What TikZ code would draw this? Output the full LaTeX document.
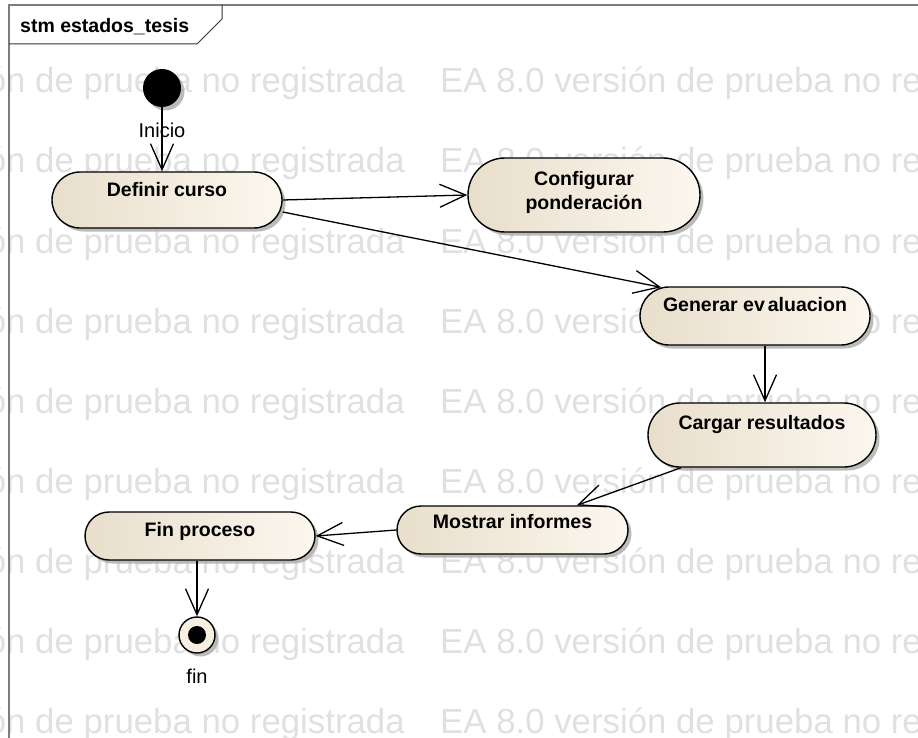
\documentclass[tikz,border=0pt]{standalone}
\usepackage{fontspec}
\setmainfont{Liberation Sans}
\usetikzlibrary{shapes.misc,shadows,arrows.meta}
\definecolor{stateL}{RGB}{232,222,203}
\definecolor{stateR}{RGB}{252,247,239}
\definecolor{finfill}{RGB}{246,239,226}
\definecolor{wmgray}{RGB}{224,224,224}
\definecolor{framegray}{RGB}{125,125,125}
\definecolor{shadowgray}{RGB}{175,175,175}
\begin{document}
\begin{tikzpicture}[x=1pt,y=-1pt,
  shadowed/.style={drop shadow={shadow xshift=3.5pt,shadow yshift=-3.5pt,fill=shadowgray,opacity=0.85}},
  state/.style={rounded rectangle,draw=black,line width=1.4pt,left color=stateL,right color=stateR,
    inner sep=0pt,minimum width=230pt,shadowed},
  lbl/.style={font=\fontsize{19.5}{24}\selectfont\bfseries,align=center,inner sep=0pt},
  note/.style={font=\fontsize{20}{24}\selectfont,inner sep=0pt},
  wm/.style={text=wmgray,font=\fontsize{34.8}{40}\selectfont,inner sep=0pt},
  trans/.style={draw=black,line width=1.3pt,-{Straight Barb[length=26pt,width=23pt]}},
  frameline/.style={draw=framegray,line width=1.6pt},
  tabline/.style={draw=black!80,line width=1pt}
]
\useasboundingbox (0,0) rectangle (918,738);

% evaluation-copy watermark rows
\begin{scope}
  \clip (0,0) rectangle (918,738);
  \foreach \k in {0,...,8}{
    \node[wm,anchor=base east] (wmL\k) at (405,93+80*\k) {EA 8.0 versión de prueba no registrada};
    \node[wm,anchor=base west] (wmR\k) at (440,93+80*\k) {EA 8.0 versión de prueba no registrada};
  }
\end{scope}

% diagram frame with name tab
\draw[frameline] (918,5) -- (9,5) -- (9,738);
\draw[tabline] (9,44) -- (197,44) -- (222,19) -- (222,5);
\node[font=\fontsize{19.5}{24}\selectfont\bfseries,anchor=base west,inner sep=0pt] (title) at (20,33) {stm estados\_tesis};

% states
\node[circle,fill=black,minimum size=38pt,inner sep=0pt,shadowed] (ini) at (162,88) {};
\node[state,minimum height=56pt] (def) at (167,200) {};
\node[state,minimum width=232pt,minimum height=74pt] (conf) at (584,195) {};
\node[state,minimum height=58pt] (gen) at (755,316) {};
\node[state,minimum width=228pt,minimum height=64pt] (car) at (762,435) {};
\node[state,minimum width=231pt,minimum height=48pt] (mos) at (512.5,530) {};
\node[state,minimum height=48pt] (finp) at (200,536) {};
\node[circle,draw=black,line width=1.4pt,fill=finfill,minimum size=36pt,inner sep=0pt,shadowed] (finalSt) at (197,635) {};
\node[circle,fill=black,minimum size=18pt,inner sep=0pt] (finalDot) at (finalSt.center) {};

% state names
\node[lbl,anchor=base] (defT) at ([yshift=-25pt]def.north) {Definir curso};
\node[lbl,anchor=north] (confT) at ([yshift=-14pt]conf.north) {Configurar\\ponderación};
\node[lbl,anchor=base] (genT) at ([yshift=-25pt]gen.north) {Generar ev\kern3pt aluacion};
\node[lbl,anchor=base] (carT) at ([yshift=-27pt]car.north) {Cargar resultados};
\node[lbl,anchor=base] (mosT) at ([yshift=-23pt]mos.north) {Mostrar informes};
\node[lbl,anchor=base] (finpT) at ([yshift=-25pt]finp.north) {Fin proceso};
\node[note,anchor=base] (finLbl) at ([yshift=-48pt]finalSt.center) {fin};

% transitions
\draw[trans] (ini.south) -- node[note,pos=0.36] (iniLbl) {Inicio} (def.north -| ini);
\draw[trans] (def.east) -- (conf.west);
\draw[trans] ([yshift=-12pt]def.east) -- (gen.163);
\draw[trans] ([xshift=10pt]gen.south) -- ([xshift=3pt]car.north);
\draw[trans] (car.202) -- (mos.21);
\draw[trans] (mos.west) -- (finp.east);
\draw[trans] (finp.south -| finalSt) -- (finalSt.north);
\end{tikzpicture}
\end{document}
